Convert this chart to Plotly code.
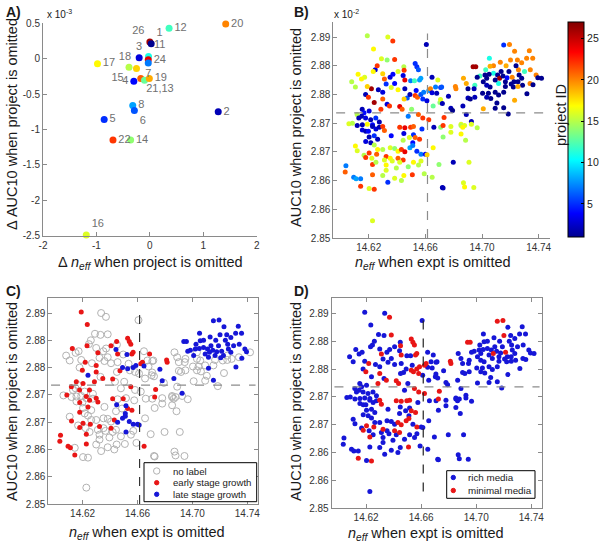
import plotly.graph_objects as go

# ---------------- Panel A data ----------------
proj_a = [12, 20, 26, 1, 3, 11, 24, 7, 17, 15, 18, 4, 21, 13, 19, 8, 6, 2, 5, 22, 14, 16]
dneff_a = [0.36, 1.42, 0.0, 0.025, -0.2, -0.025, -0.03, -0.03, -0.98, -0.39, -0.25, -0.3,
           -0.17, -0.1, -0.01, -0.32, -0.29, 1.28, -0.855, -0.69, -0.36, -1.19]
dauc_a = [0.43, 0.49, 0.235, 0.21, 0.015, 0.03, -0.015, -0.06, -0.07, -0.12, -0.14, -0.32,
          -0.28, -0.305, -0.28, -0.66, -0.73, -0.75, -0.86, -1.15, -1.15, -2.49]
label_a = ["12", "20", "26", "1", "3", "11", "24", "7", "17", "15", "18", "4",
           "21,13", " ", "19", "8", "6", "2", "5", "22", "14", "16"]

# ---------------- Panels B-D data (same points, different colouring) ----------------
# stage: 0 = no label, 1 = early stage growth, 2 = late stage growth
# media: 0 = rich media, 1 = minimal media
neff_ul = [14.6190, 14.6335, 14.6370, 14.6234, 14.6607, 14.6330, 14.6383, 14.6448, 14.6528, 14.6540,
           14.6551, 14.6246, 14.6232, 14.6171, 14.6149, 14.6106, 14.6299, 14.6311, 14.6351, 14.6371,
           14.6407, 14.6450, 14.6455, 14.6496, 14.6523, 14.6559, 14.6568, 14.6647, 14.6672, 14.6219,
           14.6268, 14.6299, 14.6359, 14.6383, 14.6407, 14.6455, 14.6472, 14.6450, 14.6528, 14.6544,
           14.6568, 14.6588, 14.6624, 14.6582, 14.6611, 14.6636, 14.6178, 14.6198, 14.6239, 14.6299,
           14.6330, 14.6347, 14.6419, 14.6436, 14.6286, 14.6154, 14.6167, 14.6203, 14.6149, 14.6118,
           14.6503, 14.6479, 14.6551, 14.6582, 14.6624, 14.6655, 14.6703, 14.6708, 14.6130, 14.6178,
           14.6214, 14.6250, 14.6275, 14.6227, 14.6190, 14.6155, 14.6060, 14.6085, 14.6443, 14.6688,
           14.6323, 14.6190, 14.6491, 14.6535, 14.6647, 14.6680, 14.6707,
           14.6080, 14.6125, 14.6260, 14.6290]
auc_ul = [2.8852, 2.8850, 2.8843, 2.8829, 2.8837, 2.8810, 2.8811, 2.8798, 2.8804, 2.8798,
          2.8793, 2.8793, 2.8790, 2.8780, 2.8777, 2.8763, 2.8786, 2.8777, 2.8780, 2.8785,
          2.8790, 2.8792, 2.8775, 2.8774, 2.8774, 2.8775, 2.8778, 2.8780, 2.8763, 2.8760,
          2.8758, 2.8754, 2.8762, 2.8769, 2.8758, 2.8760, 2.8744, 2.8742, 2.8748, 2.8745,
          2.8750, 2.8754, 2.8757, 2.8742, 2.8739, 2.8760, 2.8750, 2.8745, 2.8736, 2.8742,
          2.8733, 2.8730, 2.8729, 2.8724, 2.8724, 2.8724, 2.8718, 2.8721, 2.8712, 2.8715,
          2.8724, 2.8712, 2.8715, 2.8709, 2.8706, 2.8730, 2.8736, 2.8762, 2.8709, 2.8709,
          2.8706, 2.8709, 2.8702, 2.8697, 2.8698, 2.8697, 2.8699, 2.8700, 2.8783, 2.8775,
          2.8768, 2.8764, 2.8750, 2.8757, 2.8753, 2.8752, 2.8741,
          2.8772, 2.8785, 2.8800, 2.8812]
proj_ul = [15, 16, 22, 17, 2, 14, 22, 15, 5, 5,
           6, 3, 17, 16, 17, 15, 18, 21, 3, 4,
           16, 22, 24, 7, 12, 8, 8, 2, 7, 26,
           2, 3, 16, 4, 17, 2, 6, 18, 22, 21,
           6, 7, 8, 5, 3, 20, 2, 22, 26, 21,
           3, 22, 24, 21, 22, 2, 4, 3, 2, 15,
           14, 7, 21, 22, 22, 13, 14, 5, 2, 3,
           2, 5, 2, 4, 17, 2, 16, 15, 3, 16,
           5, 18, 2, 4, 3, 2, 16,
           15, 17, 22, 16]
stage_ul = [1, 0, 0, 1, 0, 0, 0, 1, 1, 1,
            1, 0, 1, 0, 0, 0, 0, 1, 0, 0,
            1, 0, 1, 0, 2, 1, 1, 0, 0, 1,
            0, 1, 0, 0, 0, 0, 1, 0, 2, 0,
            2, 2, 1, 0, 0, 1, 0, 1, 2, 1,
            0, 1, 1, 0, 1, 1, 0, 1, 0, 1,
            0, 0, 1, 0, 0, 0, 0, 0, 0, 1,
            0, 1, 0, 1, 0, 0, 0, 1, 2, 1,
            0, 0, 2, 0, 2, 0, 0,
            0, 1, 0, 0]
media_ul = [0, 0, 1, 0, 0, 0, 1, 0, 1, 1,
            1, 0, 0, 0, 0, 0, 0, 1, 0, 0,
            0, 1, 1, 0, 0, 1, 1, 0, 0, 1,
            0, 0, 0, 0, 0, 0, 0, 0, 1, 1,
            1, 1, 1, 1, 0, 1, 0, 1, 0, 1,
            0, 1, 1, 1, 1, 0, 0, 0, 0, 0,
            0, 0, 1, 1, 1, 0, 0, 0, 0, 0,
            0, 0, 0, 0, 0, 0, 0, 0, 0, 0,
            0, 0, 0, 0, 0, 0, 0,
            0, 0, 0, 0]

neff_ur = [14.7153, 14.7194, 14.7334, 14.7358, 14.7315, 14.7250, 14.7201, 14.7129, 14.7052, 14.7081,
           14.7057, 14.6937, 14.6956, 14.7026, 14.6985, 14.6966, 14.7021, 14.7033, 14.7081, 14.7110,
           14.7124, 14.7148, 14.7165, 14.7177, 14.7213, 14.7226, 14.7257, 14.7262, 14.7254, 14.7221,
           14.7206, 14.7286, 14.7339, 14.7360, 14.7341, 14.7382, 14.7394, 14.7317, 14.7254, 14.7165,
           14.7117, 14.7093, 14.7057, 14.7033, 14.7009, 14.7004, 14.7045, 14.7033, 14.7062, 14.7093,
           14.7117, 14.7153, 14.7009, 14.7093, 14.7153, 14.7185, 14.6949, 14.6944, 14.6901, 14.6901,
           14.6917, 14.6949, 14.6869, 14.6889, 14.6812, 14.6816, 14.6763, 14.6715, 14.6720, 14.6780,
           14.6792, 14.6865, 14.6889, 14.6852, 14.6877, 14.6925, 14.6732, 14.7135, 14.7190, 14.7240,
           14.7300, 14.7280, 14.7420, 14.7105, 14.7230, 14.7050, 14.7170, 14.7230, 14.7280]
auc_ur = [2.8836, 2.8837, 2.8826, 2.8813, 2.8813, 2.8810, 2.8810, 2.8806, 2.8813, 2.8800,
          2.8799, 2.8798, 2.8798, 2.8793, 2.8782, 2.8780, 2.8784, 2.8778, 2.8787, 2.8784,
          2.8778, 2.8782, 2.8772, 2.8779, 2.8780, 2.8772, 2.8793, 2.8784, 2.8772, 2.8763,
          2.8768, 2.8766, 2.8769, 2.8767, 2.8793, 2.8784, 2.8779, 2.8751, 2.8764, 2.8764,
          2.8769, 2.8775, 2.8763, 2.8766, 2.8772, 2.8752, 2.8752, 2.8745, 2.8743, 2.8754,
          2.8749, 2.8754, 2.8725, 2.8726, 2.8727, 2.8716, 2.8766, 2.8760, 2.8760, 2.8744,
          2.8742, 2.8745, 2.8778, 2.8769, 2.8764, 2.8760, 2.8747, 2.8763, 2.8734, 2.8726,
          2.8722, 2.8730, 2.8715, 2.8698, 2.8696, 2.8703, 2.8710, 2.8790, 2.8790, 2.8800,
          2.8790, 2.8778, 2.8778, 2.8735, 2.8740, 2.8785, 2.8800, 2.8825, 2.8805]
proj_ur = [5, 20, 20, 20, 20, 20, 20, 20, 11, 20,
           19, 26, 26, 12, 12, 1, 1, 1, 11, 1,
           26, 1, 1, 4, 20, 1, 20, 1, 1, 1,
           1, 1, 20, 1, 20, 20, 1, 1, 19, 1,
           11, 1, 1, 2, 1, 1, 1, 2, 1, 1,
           1, 1, 19, 1, 1, 1, 12, 2, 1, 2,
           1, 2, 19, 19, 20, 20, 2, 6, 2, 2,
           1, 2, 2, 16, 16, 2, 22, 1, 1, 1,
           12, 1, 1, 1, 19, 1, 19, 20, 20]
stage_ur = [2, 2, 2, 2, 2, 2, 2, 2, 2, 2,
            2, 2, 2, 2, 2, 2, 2, 0, 2, 2,
            2, 2, 2, 2, 2, 2, 2, 2, 0, 0,
            2, 0, 0, 2, 2, 2, 2, 2, 0, 0,
            2, 2, 0, 0, 2, 0, 0, 0, 0, 0,
            2, 0, 0, 0, 2, 0, 0, 0, 0, 0,
            0, 0, 0, 0, 1, 1, 2, 0, 0, 2,
            0, 2, 0, 0, 0, 2, 1, 2, 2, 2,
            2, 2, 0, 0, 0, 2, 2, 2, 2]
media_ur = [1, 1, 0, 0, 0, 0, 1, 0, 0, 0,
            0, 1, 1, 0, 0, 0, 0, 0, 0, 0,
            1, 0, 0, 0, 1, 0, 0, 0, 0, 0,
            0, 0, 0, 0, 0, 0, 0, 0, 0, 0,
            0, 0, 0, 0, 0, 0, 0, 0, 0, 0,
            0, 0, 0, 0, 0, 0, 0, 0, 0, 0,
            0, 0, 0, 0, 1, 1, 0, 0, 0, 0,
            0, 0, 0, 0, 0, 0, 1, 0, 0, 0,
            0, 0, 0, 0, 0, 0, 0, 0, 0]

neff_ll = [14.6119, 14.6155, 14.6179, 14.6198, 14.6227, 14.6251, 14.6275, 14.6299, 14.6311, 14.6419,
           14.6455, 14.6496, 14.6516, 14.6448, 14.6576, 14.6660, 14.6708, 14.6203, 14.6239, 14.6263,
           14.6179, 14.6215, 14.6239, 14.6359, 14.6516, 14.6528, 14.6559, 14.6511, 14.6487, 14.6443,
           14.6119, 14.6106, 14.6167, 14.6179, 14.6203, 14.6222, 14.6256, 14.6263, 14.6299, 14.6352,
           14.6383, 14.6407, 14.6431, 14.6455, 14.6491, 14.6511, 14.6540, 14.6569, 14.6600, 14.6323,
           14.6352, 14.6407, 14.6443, 14.6366, 14.6227, 14.6251, 14.6311, 14.6323, 14.6395, 14.6419,
           14.6479, 14.6516, 14.6552, 14.6569, 14.6612, 14.6655, 14.6039, 14.6034, 14.6094, 14.6111,
           14.6143, 14.6143, 14.6203, 14.6239, 14.6227, 14.6299, 14.6323, 14.6335, 14.6383, 14.6431,
           14.6448, 14.6508, 14.6592, 14.6648, 14.6720, 14.6227]
auc_ll = [2.8696, 2.8688, 2.8686, 2.8686, 2.8694, 2.8690, 2.8693, 2.8694, 2.8687, 2.8693,
          2.8692, 2.8693, 2.8694, 2.8682, 2.8690, 2.8693, 2.8693, 2.8676, 2.8678, 2.8672,
          2.8668, 2.8666, 2.8662, 2.8678, 2.8680, 2.8675, 2.8672, 2.8666, 2.8675, 2.8670,
          2.8652, 2.8660, 2.8644, 2.8640, 2.8648, 2.8639, 2.8646, 2.8654, 2.8654, 2.8657,
          2.8656, 2.8651, 2.8654, 2.8650, 2.8657, 2.8661, 2.8651, 2.8646, 2.8646, 2.8642,
          2.8639, 2.8639, 2.8636, 2.8634, 2.8628, 2.8632, 2.8636, 2.8627, 2.8622, 2.8632,
          2.8624, 2.8632, 2.8627, 2.8634, 2.8645, 2.8657, 2.8626, 2.8615, 2.8606, 2.8603,
          2.8603, 2.8590, 2.8586, 2.8585, 2.8610, 2.8609, 2.8618, 2.8597, 2.8604, 2.8600,
          2.8609, 2.8610, 2.8612, 2.8606, 2.8588, 2.8530]
proj_ll = [2, 3, 2, 4, 2, 3, 2, 22, 21, 22,
           24, 22, 21, 3, 5, 2, 14, 2, 5, 2,
           3, 2, 15, 4, 5, 21, 22, 4, 16, 15,
           16, 17, 15, 22, 22, 16, 21, 17, 15, 16,
           14, 17, 22, 24, 8, 7, 5, 7, 4, 22,
           17, 21, 22, 16, 22, 15, 16, 17, 15, 16,
           14, 17, 15, 16, 18, 17, 7, 21, 7, 8,
           7, 22, 16, 22, 21, 15, 16, 5, 16, 15,
           17, 22, 15, 15, 2, 16]
stage_ll = [0, 0, 1, 0, 0, 1, 0, 1, 1, 1,
            0, 1, 0, 2, 0, 0, 0, 0, 1, 0,
            1, 0, 0, 0, 2, 1, 1, 2, 0, 0,
            1, 0, 0, 1, 1, 0, 1, 0, 0, 0,
            0, 0, 1, 2, 2, 2, 2, 2, 2, 1,
            0, 1, 0, 0, 1, 0, 0, 0, 0, 0,
            0, 2, 0, 0, 2, 0, 1, 1, 1, 1,
            0, 1, 0, 0, 1, 0, 0, 0, 0, 0,
            0, 0, 0, 1, 0, 0]
media_ll = [0, 0, 0, 0, 0, 0, 0, 1, 1, 1,
            1, 1, 1, 0, 0, 0, 0, 0, 0, 0,
            0, 0, 0, 0, 0, 1, 1, 0, 0, 0,
            0, 0, 0, 1, 1, 0, 1, 0, 0, 0,
            0, 0, 1, 1, 1, 1, 0, 1, 0, 1,
            0, 1, 1, 0, 1, 0, 0, 0, 0, 0,
            0, 0, 0, 0, 0, 0, 0, 0, 0, 0,
            0, 1, 0, 1, 0, 0, 0, 0, 0, 0,
            0, 1, 0, 0, 0, 0]

neff_lr = [14.6725, 14.6780, 14.6852, 14.6864, 14.6925, 14.6966, 14.6725, 14.6780, 14.6852,
           14.6884, 14.6696, 14.6797, 14.6908, 14.6725, 14.6869, 14.6877, 14.6942]
auc_lr = [2.8696, 2.8694, 2.8696, 2.8693, 2.8698, 2.8692, 2.8676, 2.8684, 2.8681,
          2.8670, 2.8628, 2.8632, 2.8632, 2.8587, 2.8596, 2.8589, 2.8588]
proj_lr = [22, 16, 15, 17, 16, 15, 14, 16, 17, 15, 14, 2, 16, 2, 16, 17, 16]
stage_lr = [1, 0, 0, 0, 0, 0, 0, 0, 0, 0, 0, 0, 0, 0, 0, 0, 0]
media_lr = [1, 0, 0, 0, 0, 0, 0, 0, 0, 0, 0, 0, 0, 0, 0, 0, 0]

# reference lines and tick labels
neff_ref = 14.6615
auc_ref = 2.8718
y_tickvals = [2.850, 2.855, 2.860, 2.865, 2.870, 2.875, 2.880, 2.885]
y_ticktext = ["2.85", "2.86", "2.86", "2.87", "2.87", "2.88", "2.88", "2.89"]
x_tickvals = [14.62, 14.66, 14.70, 14.74]
x_ticktext = ["14.62", "14.66", "14.70", "14.74"]
a_xticks = [-2, -1, 0, 1, 2]
a_xtext = ["-2", "-1", "0", "1", "2"]
a_yticks = [0.5, 0, -0.5, -1, -1.5, -2, -2.5]
a_ytext = ["0.5", "0", "-0.5", "-1", "-1.5", "-2", "-2.5"]
cb_ticks = [5, 10, 15, 20, 25]
stage_names = ["no label", "early stage growth", "late stage growth"]
media_names = ["rich media", "minimal media"]

neff = neff_ul + neff_ur + neff_ll + neff_lr
auc = auc_ul + auc_ur + auc_ll + auc_lr
proj = proj_ul + proj_ur + proj_ll + proj_lr
stage = stage_ul + stage_ur + stage_ll + stage_lr
media = media_ul + media_ur + media_ll + media_lr

# ---------------- styling ----------------
FONT = "Liberation Sans, Arial, Helvetica, sans-serif"
JET = [[0.0, "rgb(0,0,143)"], [0.11, "rgb(0,0,255)"], [0.36, "rgb(0,255,255)"],
       [0.61, "rgb(255,255,0)"], [0.86, "rgb(255,0,0)"], [1.0, "rgb(128,0,0)"]]
RED = "rgb(232,22,22)"
BLUE = "rgb(22,22,215)"
GRAY = "rgb(178,178,178)"
AXC = "#8a8a8a"
W, H = 600, 550


def dom_x(a, b):
    return [a / W, b / W]


def dom_y(top, bottom):
    return [1 - bottom / H, 1 - top / H]


fig = go.Figure()

# Panel A
text_pos = {12: "middle right", 20: "middle right", 26: "top left", 1: "top right",
            3: "top center", 11: "top right", 24: "middle right", 7: "bottom center",
            17: "middle right", 15: "bottom left", 18: "top left", 4: "middle left",
            21: "bottom right", 13: "middle right", 19: "middle right", 8: "middle right",
            6: "bottom right", 2: "middle right", 5: "middle right", 22: "middle right",
            14: "middle right", 16: "top right"}
fig.add_trace(go.Scatter(
    x=dneff_a, y=dauc_a, mode="markers+text", text=label_a,
    textposition=[text_pos[p] for p in proj_a],
    textfont=dict(size=11, color="#6f6f6f", family=FONT),
    marker=dict(size=7, color=proj_a, colorscale=JET, cmin=1, cmax=27),
    xaxis="x", yaxis="y", showlegend=False, cliponaxis=False))

# Panel B
fig.add_trace(go.Scatter(
    x=neff, y=auc, mode="markers",
    marker=dict(size=5, color=proj, colorscale=JET, cmin=1, cmax=27, showscale=True,
                colorbar=dict(x=568 / W, xanchor="left", xpad=0, y=1 - 129.5 / H, yanchor="middle",
                              ypad=0, len=215 / H, lenmode="fraction", thickness=16,
                              thicknessmode="pixels", outlinecolor="black", outlinewidth=1,
                              tickvals=cb_ticks, ticks="inside", ticklen=3, tickcolor="black",
                              tickfont=dict(size=10.5, color="#222", family=FONT))),
    xaxis="x2", yaxis="y2", showlegend=False))


def pick(vals, cond):
    return [v for v, c in zip(vals, cond) if c]


# Panel C
stage_markers = [dict(size=7, color="rgba(0,0,0,0)", line=dict(color=GRAY, width=1)),
                 dict(size=5, color=RED), dict(size=5, color=BLUE)]
for code in range(3):
    cond = [s == code for s in stage]
    fig.add_trace(go.Scatter(x=pick(neff, cond), y=pick(auc, cond), mode="markers",
                             name=stage_names[code], marker=stage_markers[code],
                             xaxis="x3", yaxis="y3", showlegend=False))

# Panel D
for code, col in [(0, BLUE), (1, RED)]:
    cond = [m == code for m in media]
    fig.add_trace(go.Scatter(x=pick(neff, cond), y=pick(auc, cond), mode="markers",
                             name=media_names[code], marker=dict(size=5, color=col),
                             xaxis="x4", yaxis="y4", showlegend=False))


def axis(domain, rng, tv, tt, anchor, mirror=False):
    return dict(domain=domain, range=rng, tickvals=tv, ticktext=tt, anchor=anchor,
                showline=True, linecolor=AXC, linewidth=1, mirror="ticks" if mirror else False,
                ticks="inside", ticklen=4, tickcolor=AXC, showgrid=False, zeroline=False,
                automargin=False, tickfont=dict(size=10, color="#333", family=FONT))


xr = [14.595, 14.748]
yr = [2.85, 2.8877]

fig.update_layout(
    width=W, height=H, margin=dict(l=0, r=0, t=0, b=0, pad=0, autoexpand=False),
    paper_bgcolor="white", plot_bgcolor="white", showlegend=False,
    font=dict(family=FONT, size=11, color="#222"),
    xaxis=axis(dom_x(43, 256.7), [-2, 2], a_xticks, a_xtext, "y"),
    yaxis=axis(dom_y(23.3, 235.7), [-2.5, 0.5], a_yticks, a_ytext, "x"),
    xaxis2=axis(dom_x(333.3, 550), xr, x_tickvals, x_ticktext, "y2"),
    yaxis2=axis(dom_y(21.5, 238), yr, y_tickvals, y_ticktext, "x2"),
    xaxis3=axis(dom_x(48.3, 258.3), xr, x_tickvals, x_ticktext, "y3", mirror=True),
    yaxis3=axis(dom_y(298.3, 504), yr, y_tickvals, y_ticktext, "x3", mirror=True),
    xaxis4=axis(dom_x(331.7, 542.3), xr, x_tickvals, x_ticktext, "y4", mirror=True),
    yaxis4=axis(dom_y(298.3, 508.3), yr, y_tickvals, y_ticktext, "x4", mirror=True),
)

# dashed reference lines
shapes = []
for xa, ya, vcol, y0, y1 in [("x2", "y2", "#8c8c8c", 2.85, 2.8856),
                             ("x3", "y3", "#333333", 2.85, 2.8848),
                             ("x4", "y4", "#222222", 2.853, 2.8846)]:
    shapes.append(dict(type="line", xref=xa, yref=ya, x0=neff_ref, x1=neff_ref, y0=y0, y1=y1,
                       line=dict(color=vcol, width=1.2, dash="dash")))
    shapes.append(dict(type="line", xref=xa, yref=ya, x0=14.597, x1=14.746, y0=auc_ref, y1=auc_ref,
                       line=dict(color="#8c8c8c", width=1.2, dash="dash")))


# hand-built legends (paper coordinates, pixels converted)
def px_rect(x0, y0, x1, y1):
    shapes.append(dict(type="rect", xref="paper", yref="paper", x0=x0 / W, x1=x1 / W,
                       y0=1 - y1 / H, y1=1 - y0 / H, line=dict(color="black", width=1),
                       fillcolor="white", layer="above"))


def px_dot(cx, cy, r, fill, line):
    shapes.append(dict(type="circle", xref="paper", yref="paper", x0=(cx - r) / W, x1=(cx + r) / W,
                       y0=1 - (cy + r) / H, y1=1 - (cy - r) / H, fillcolor=fill,
                       line=dict(color=line, width=1), layer="above"))


ann = []


def txt(x, y, s, size=14, angle=0, xanchor="center", yanchor="middle", bold=False, color="#1a1a1a"):
    ann.append(dict(x=x / W, y=1 - y / H, xref="paper", yref="paper",
                    text=("<b>%s</b>" % s) if bold else s,
                    showarrow=False, textangle=angle, xanchor=xanchor, yanchor=yanchor,
                    font=dict(size=size, color=color, family=FONT)))


px_rect(144, 462.7, 256.7, 501.7)
legend_c_rows = [471, 482.7, 494.3]
px_dot(156.7, legend_c_rows[0], 3.2, "white", GRAY)
px_dot(156.7, legend_c_rows[1], 2.2, RED, RED)
px_dot(156.7, legend_c_rows[2], 2.2, BLUE, BLUE)
for i in range(3):
    txt(171, legend_c_rows[i], stage_names[i], 9.6, xanchor="left")

px_rect(446.7, 470.7, 535, 498.3)
legend_d_rows = [477.5, 490.5]
px_dot(453.3, legend_d_rows[0], 2.2, BLUE, BLUE)
px_dot(453.3, legend_d_rows[1], 2.2, RED, RED)
for i in range(2):
    txt(466, legend_d_rows[i], media_names[i], 9.8, xanchor="left")

fig.update_layout(shapes=shapes)

# panel letters, exponents, axis titles
txt(4, 12, "A)", 14, xanchor="left", bold=True)
txt(292, 12, "B)", 14, xanchor="left", bold=True)
txt(4, 291, "C)", 14, xanchor="left", bold=True)
txt(292, 291, "D)", 14, xanchor="left", bold=True)

txt(45, 14, "x 10<sup>-3</sup>", 10, xanchor="left")
txt(332, 14, "x 10<sup>-2</sup>", 10, xanchor="left")

txt(150, 263, "Δ <i>n<sub>eff</sub></i> when project is omitted", 14.5)
txt(12, 124, "Δ AUC10 when project is omitted", 14.5, angle=-90)
txt(433, 263, "<i>n<sub>eff</sub></i> when expt is omitted", 14.5)
txt(296, 128, "AUC10 when project is omitted", 14.5, angle=-90)
txt(147, 533, "<i>n<sub>eff</sub></i> when expt is omitted", 14.5)
txt(12, 402, "AUC10 when project is omitted", 14.5, angle=-90)
txt(426, 534, "<i>n<sub>eff</sub></i> when expt is omitted", 14.5)
txt(296, 402, "AUC10 when project is omitted", 14.5, angle=-90)
txt(561, 115, "project ID", 14.5, angle=-90)

fig.update_layout(annotations=ann)
fig.write_html("out.html", config={"displayModeBar": False},
               post_script="document.body.style.margin='0';")
